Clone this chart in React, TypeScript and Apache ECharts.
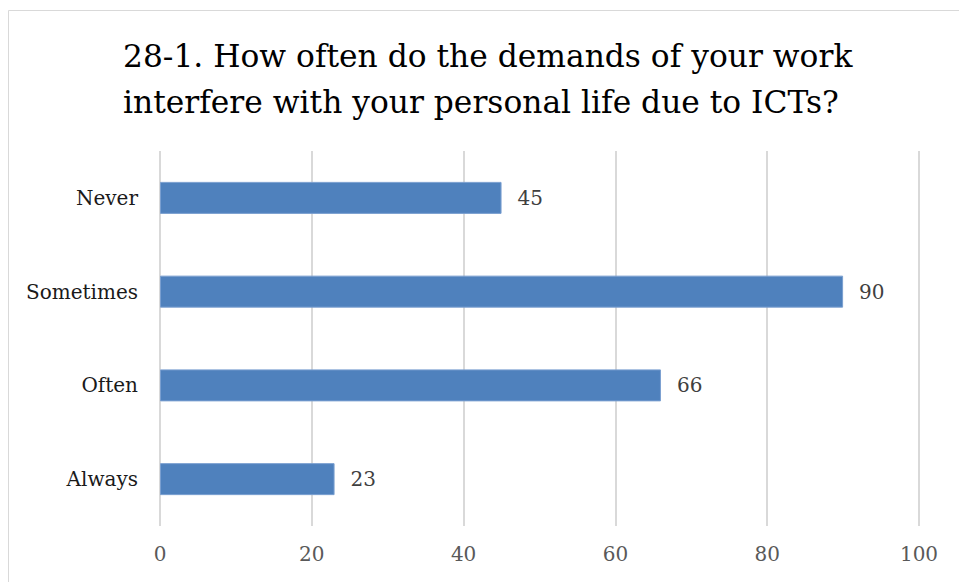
import React, { useEffect, useRef } from "react";
import * as echarts from "echarts";

const categories = ["Never", "Sometimes", "Often", "Always"];
const values = [45, 90, 66, 23];
const xTicks = [0, 20, 40, 60, 80, 100];
const titleText = "28-1. How often do the demands of your work\ninterfere with your personal life due to ICTs?";

export default function App() {
  const ref = useRef<HTMLDivElement>(null);
  useEffect(() => {
    if (!ref.current) return;
    const chart = echarts.init(ref.current, null, { renderer: "svg" });
    const font = "'DejaVu Serif', 'Liberation Serif', serif";
    chart.setOption({
      animation: false,
      backgroundColor: "#ffffff",
      title: {
        text: titleText,
        left: 118,
        top: 28,
        textAlign: "left",
        textStyle: {
          fontFamily: font,
          fontSize: 31.3,
          fontWeight: "normal",
          color: "#000000",
          lineHeight: 46,
          align: "center",
        },
      },
      graphic: [
        {
          type: "rect",
          shape: { x: 8.5, y: 10.5, width: 1000, height: 1000 },
          style: { fill: "none", stroke: "#d9d9d9", lineWidth: 1 },
          silent: true,
        },
      ],
      grid: { left: 160, right: 40, top: 151, bottom: 56, containLabel: false },
      xAxis: {
        type: "value",
        min: xTicks[0],
        max: xTicks[xTicks.length - 1],
        interval: 20,
        axisLine: { show: false },
        axisTick: { show: false },
        splitLine: { show: true, lineStyle: { color: "#d9d9d9", width: 2 } },
        axisLabel: {
          fontFamily: font,
          fontSize: 20,
          color: "#595959",
          margin: 18,
        },
      },
      yAxis: {
        type: "category",
        data: categories,
        inverse: true,
        axisLine: { show: false },
        axisTick: { show: false },
        axisLabel: {
          fontFamily: font,
          fontSize: 20,
          color: "#1a1a1a",
          margin: 22,
        },
      },
      series: [
        {
          type: "bar",
          data: values,
          barWidth: 32,
          itemStyle: { color: "#4f81bd", borderColor: "#7a9fd0", borderWidth: 1 },
          label: {
            show: true,
            position: "right",
            distance: 16,
            fontFamily: font,
            fontSize: 20,
            color: "#404040",
          },
        },
      ],
    });
    return () => chart.dispose();
  }, []);
  return (
    <div
      ref={ref}
      style={{ position: "fixed", left: 0, top: 0, width: 959, height: 582 }}
    />
  );
}
